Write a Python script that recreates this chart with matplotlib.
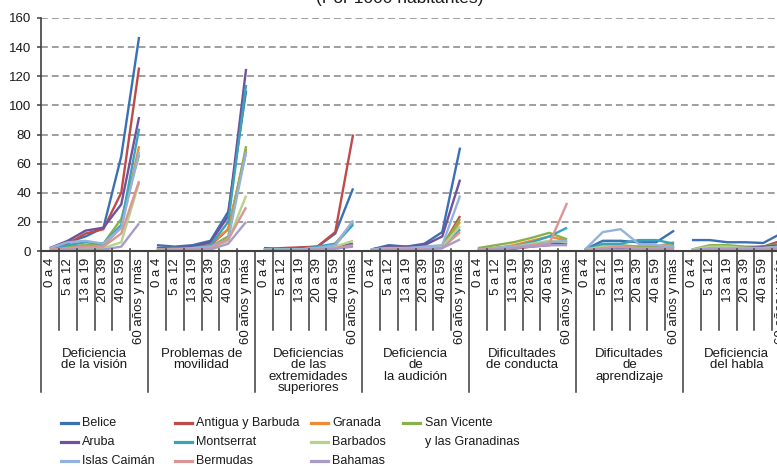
import matplotlib
matplotlib.use("Agg")
import matplotlib.pyplot as plt
from matplotlib.lines import Line2D
from matplotlib.transforms import blended_transform_factory
from matplotlib import font_manager
import numpy as np

# ---- data (per 1000 inhabitants) ----
age_groups = ["0 a 4", "5 a 12", "13 a 19", "20 a 39", "40 a 59", "60 años y más"]
disabilities = ["Deficiencia\nde la visión", "Problemas de\nmovilidad",
                "Deficiencias\nde las\nextremidades\nsuperiores",
                "Deficiencia\nde\nla audición", "Dificultades\nde conducta",
                "Dificultades\nde\naprendizaje", "Deficiencia\ndel habla"]

belice = [2, 6, 10, 16, 65, 147,   4, 3, 4, 7, 27, 110,   2, 1.5, 2, 3, 12, 43,
          1, 4, 3, 5, 13, 71,      1, 2, 3, 5, 6, 6,      1, 7, 7, 6, 6, 14,
          7.5, 7.5, 6, 6, 5.5, 12]
antigua = [1, 5, 12, 15, 40, 126,  1, 1, 2, 4, 15, 68,    1, 2, 2.5, 3, 13, 80,
           0.5, 1, 1, 2, 3, 24,    0.5, 1, 1.5, 3, 4, 5,  0.5, 1, 1, 1, 1, 2,
           0.5, 2, 2, 2, 3, 7]
granada = [1, 2, 4, 4, 16, 72,     1, 1, 2, 5, 15, 70,    0.5, 1, 1, 2, 5, 20,
           0.5, 2, 3, 2, 3, 20,    1, 2, 4, 7, 10, 7,     0.5, 3, 3, 3, 3, 6,
           1, 3, 3, 2, 2, 5]
san_vicente = [1, 3, 4, 5, 22, 66, 2, 2, 2, 3, 10, 72,    1, 1, 1, 2, 4, 19,
               1, 2, 2, 3, 3, 22,  2, 4, 6, 9, 12.5, 8,   1, 4, 4, 3, 3, 4,
               1, 4, 4, 3, 3, 5]
aruba = [2, 7, 14, 16, 32, 92,     2, 2, 3, 6, 24, 125,   1, 1, 1, 2, 3, 5,
         1, 3, 3, 4, 10, 49,       1, 2, 2, 4, 5, 6,      0.5, 2, 2, 2, 2, 3,
         1, 2, 2, 2, 3, 4]
montserrat = [1, 4, 6, 5, 18, 84,  1, 2, 2, 4, 20, 114,   1, 1, 1, 3, 5, 18,
              0.5, 1, 1, 2, 2, 15, 1, 2, 3, 6, 10, 16,    1, 5, 5, 7.5, 7.5, 5,
              0.5, 2, 2, 2, 2, 3]
barbados = [0.5, 1, 2, 2, 6, 47,   1, 1, 1, 2, 7, 38,     1, 1, 1, 2, 3, 7,
            1, 2, 2, 2, 3, 17,     1, 2, 3, 5, 7, 6,      1, 3, 3, 2, 2, 3,
            1, 3, 3, 2, 2, 3]
islas_caiman = [2, 6, 7, 5, 16, 68, 1, 1, 2, 3, 8, 68,    1, 1, 1, 2, 4, 21,
                1, 2, 2, 3, 4, 38, 1, 2, 3, 4, 6, 7,      1, 13, 15, 5, 4, 3,
                0.5, 2, 2, 2, 2, 3]
bermudas = [1, 2, 3, 3, 12, 48,    1, 1, 1, 2, 8, 30,     0.5, 0.5, 0.5, 1, 2, 4,
            0.5, 1, 1, 1, 2, 13,   1, 1, 2, 4, 5, 33,     0.5, 2, 3, 2, 2, 2,
            0.5, 1, 1, 1, 1, 2]
bahamas = [0.5, 1, 1, 1, 3, 19,    0.5, 0.5, 1, 1, 5, 20, 0.5, 0.5, 0.5, 1, 1.5, 3,
           0.5, 0.5, 1, 1, 2, 8,   0.5, 1, 2, 3, 4, 4,    0.5, 1, 1, 1, 1, 1,
           0.5, 1, 1, 1, 1, 1]

series = [
    ("Belice", belice, "#3a70b4"),
    ("Antigua y Barbuda", antigua, "#be4b48"),
    ("Granada", granada, "#f08a35"),
    ("San Vicente\ny las Granadinas", san_vicente, "#8ab04a"),
    ("Aruba", aruba, "#6f529a"),
    ("Montserrat", montserrat, "#3aa3bc"),
    ("Barbados", barbados, "#b6d38e"),
    ("Islas Caimán", islas_caiman, "#93b2dc"),
    ("Bermudas", bermudas, "#da9694"),
    ("Bahamas", bahamas, "#a99bc8"),
]

plt.rcParams["font.family"] = ["Liberation Sans", "DejaVu Sans"]

W, H = 777, 468
fig = plt.figure(figsize=(W / 100, H / 100), dpi=100)

# axes extend past the right edge of the figure
ax_left, ax_right, ax_top, ax_bot = 41, 790, 18, 251
ax = fig.add_axes([ax_left / W, 1 - ax_bot / H, (ax_right - ax_left) / W, (ax_bot - ax_top) / H])

n_cat = len(age_groups)
n_grp = len(disabilities)
n = n_cat * n_grp
x = np.arange(n) + 0.5

for name, vals, color in series:
    v = np.asarray(vals, dtype=float)
    for g in range(n_grp):
        sl = slice(g * n_cat, (g + 1) * n_cat)
        ax.plot(x[sl], v[sl], color=color, lw=1.7, solid_joinstyle="round",
                solid_capstyle="butt", clip_on=False)

ax.set_xlim(0, n)
ax.set_ylim(0, 160)
ax.set_yticks(np.arange(0, 161, 20))
ax.yaxis.grid(True, color="#858585", lw=1.1, linestyle=(0, (4.5, 2.6)))
ax.set_axisbelow(True)
ax.tick_params(axis="y", direction="out", length=3, width=1.1, color="#404040",
               labelsize=9.5, labelcolor="#1a1a1a", pad=4)
ax.set_xticks([])
for s in ("top", "right"):
    ax.spines[s].set_visible(False)
ax.spines["left"].set_color("#404040")
ax.spines["left"].set_linewidth(1.2)
ax.spines["bottom"].set_color("#404040")
ax.spines["bottom"].set_linewidth(1.5)

# multi-level category axis
ph = ax_bot - ax_top
def frac(ypx):
    return (ax_bot - ypx) / ph

tr = blended_transform_factory(ax.transData, ax.transAxes)
for k in range(n + 1):
    if k % n_cat == 0:
        y0, y1 = frac(ax_bot), frac(392)
    else:
        y0, y1 = frac(ax_bot - 2), frac(330)
    ax.add_line(Line2D([k, k], [y0, y1], transform=tr, color="#3c3c3c", lw=1.1,
                       clip_on=False))

for i in range(n):
    ax.text(x[i], frac(258), age_groups[i % n_cat], transform=tr, rotation=90,
            ha="center", va="top", fontsize=9.5, color="#1a1a1a")

for g, label in enumerate(disabilities):
    ax.text(g * n_cat + n_cat / 2, frac(348), label, transform=tr, ha="center",
            va="top", fontsize=9.5, color="#1a1a1a", linespacing=0.92,
            multialignment="center")

# title (partially above the canvas)
fig.text(400 / W, 1 - 2.5 / H, "(Por 1000 habitantes)", ha="center", va="baseline",
         fontsize=12.5, color="#1a1a1a")

# legend
try:
    font_manager.findfont("Liberation Sans Narrow", fallback_to_default=False)
    leg_family, leg_size = "Liberation Sans Narrow", 9.3
except Exception:
    leg_family, leg_size = "Liberation Sans", 9.0

col_line = [61, 175, 311, 403]
col_text = [82, 196, 332, 425]
rows = [423, 442, 461]
order = [(0, 0, 0), (4, 0, 1), (7, 0, 2),
         (1, 1, 0), (5, 1, 1), (8, 1, 2),
         (2, 2, 0), (6, 2, 1), (9, 2, 2),
         (3, 3, 0)]
for idx, c, r in order:
    name, _, color = series[idx]
    yy = 1 - rows[r] / H
    fig.add_artist(Line2D([col_line[c] / W, (col_line[c] + 17) / W], [yy, yy],
                          transform=fig.transFigure, color=color, lw=2.3))
    lines = name.split("\n")
    for j, t in enumerate(lines):
        fig.text(col_text[c] / W, 1 - (rows[r] + 19 * j) / H, t, ha="left",
                 va="center", fontsize=leg_size, family=leg_family, color="#1a1a1a")

fig.savefig("out.png", dpi=100)
